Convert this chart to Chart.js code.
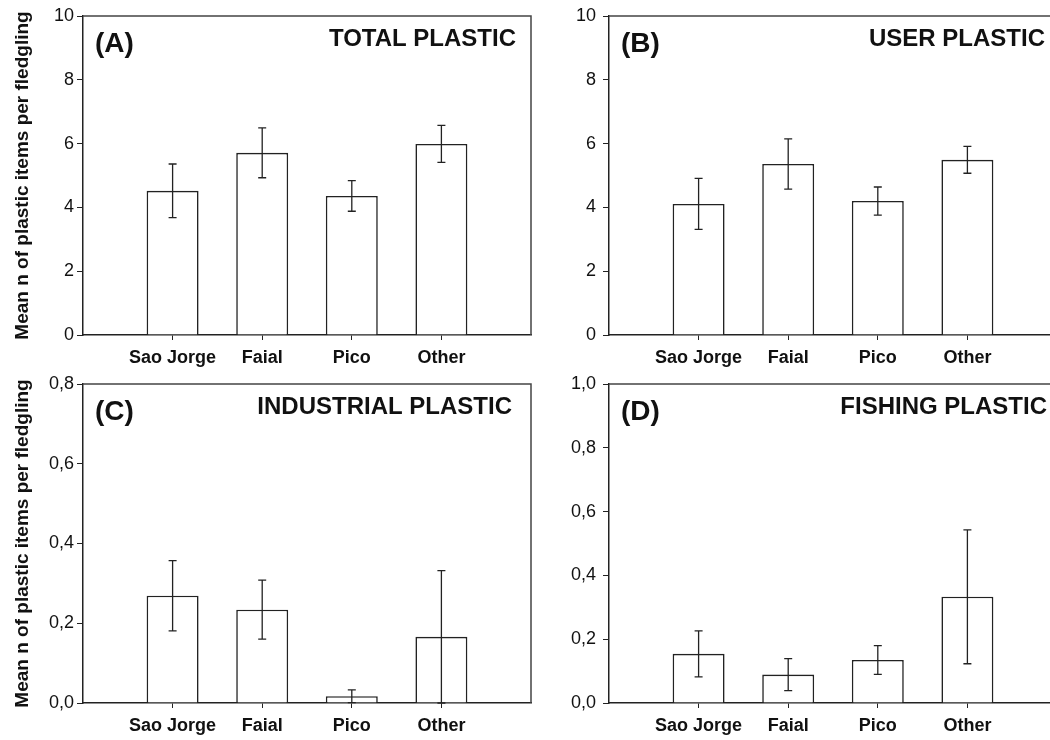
<!DOCTYPE html>
<html>
<head>
<meta charset="utf-8">
<script src="https://cdn.jsdelivr.net/npm/chart.js@4/dist/chart.umd.min.js"></script>
<style>
  html, body { margin: 0; padding: 0; background: #fff; width: 1050px; height: 740px; overflow: hidden; }
  canvas { position: absolute; }
</style>
</head>
<body>
<canvas id="chartA" width="540" height="370" style="left:0;top:0"></canvas>
<canvas id="chartB" width="535" height="370" style="left:530px;top:0"></canvas>
<canvas id="chartC" width="540" height="370" style="left:0;top:370px"></canvas>
<canvas id="chartD" width="535" height="370" style="left:530px;top:370px"></canvas>
<script>
// ========================
// DATA
// ========================
const categories = ["Sao Jorge", "Faial", "Pico", "Other"];

const totalMean = [4.52, 5.71, 4.36, 5.99];
const totalErr = [0.84, 0.78, 0.48, 0.58];

const userMean = [4.11, 5.36, 4.20, 5.49];
const userErr = [0.80, 0.79, 0.44, 0.42];

const industrialMean = [0.269, 0.234, 0.017, 0.166];
const industrialErr = [0.088, 0.074, 0.016, 0.166];

const fishingMean = [0.154, 0.089, 0.135, 0.333];
const fishingErr = [0.072, 0.050, 0.045, 0.210];

const FONT = "'Liberation Sans', Arial, sans-serif";
const INK = "#222";

// ========================
// PLUGINS
// ========================
const frameAndErrors = {
  id: "frameAndErrors",
  afterDatasetsDraw(chart) {
    const { ctx, chartArea: a, scales } = chart;
    const errs = chart.options.plugins.frameAndErrors.errors;
    const means = chart.data.datasets[0].data;
    ctx.save();
    ctx.strokeStyle = INK;
    ctx.lineWidth = 1.3;
    means.forEach((m, i) => {
      if (m == null) return;
      const e = errs[i - 1];
      const x = scales.x.getPixelForValue(i);
      const yTop = scales.y.getPixelForValue(m + e);
      const yBot = scales.y.getPixelForValue(Math.max(m - e, 0));
      ctx.beginPath();
      ctx.moveTo(x, yTop); ctx.lineTo(x, yBot);
      ctx.moveTo(x - 4, yTop); ctx.lineTo(x + 4, yTop);
      ctx.moveTo(x - 4, yBot); ctx.lineTo(x + 4, yBot);
      ctx.stroke();
    });
    // top and right frame
    ctx.strokeStyle = "#444";
    ctx.lineWidth = 1.5;
    ctx.beginPath();
    ctx.moveTo(a.left, a.top); ctx.lineTo(a.right, a.top); ctx.lineTo(a.right, a.bottom);
    ctx.stroke();
    ctx.restore();
  },
  afterDraw(chart) {
    const { ctx, chartArea: a } = chart;
    const o = chart.options.plugins.frameAndErrors;
    ctx.save();
    ctx.fillStyle = "#111";
    ctx.textBaseline = "middle";
    ctx.font = "bold 28px " + FONT;
    ctx.textAlign = "left";
    ctx.fillText(o.letter, a.left + 12, a.top + 28);
    ctx.font = "bold 24px " + FONT;
    ctx.textAlign = "right";
    ctx.fillText(o.title, a.right - o.titleInset, a.top + 23);
    ctx.restore();
  }
};

// ========================
// CHART BUILDER
// ========================
function makePanel(id, p) {
  const fmt = p.comma ? v => v.toFixed(1).replace(".", ",") : v => String(v);
  new Chart(document.getElementById(id), {
    type: "bar",
    data: {
      labels: ["", ...categories, ""],
      datasets: [{
        data: [null, ...p.mean, null],
        backgroundColor: "#fff",
        borderColor: INK,
        borderWidth: 1.6,
        barPercentage: 0.58,
        categoryPercentage: 1
      }]
    },
    options: {
      responsive: false,
      animation: false,
      layout: { padding: { top: p.padTop, right: p.padRight, left: 0, bottom: 0 } },
      plugins: {
        legend: { display: false },
        tooltip: { enabled: false },
        frameAndErrors: { errors: p.err, letter: p.letter, title: p.title, titleInset: p.titleInset }
      },
      scales: {
        x: {
          offset: false,
          afterFit: s => { s.height = p.xHeight; },
          border: { color: INK, width: 1.5 },
          grid: {
            offset: false,
            drawOnChartArea: false,
            tickLength: 5,
            color: c => (c.index === 0 || c.index === 5) ? "rgba(0,0,0,0)" : INK
          },
          ticks: { color: "#111", padding: 7, autoSkip: false, maxRotation: 0, font: { family: FONT, size: 18, weight: "bold" } }
        },
        y: {
          min: 0,
          max: p.max,
          afterFit: s => { s.width = p.yWidth; s.paddingTop = 10; s.paddingBottom = 10; },
          border: { color: INK, width: 1.5 },
          grid: { drawOnChartArea: false, tickLength: 6, color: INK },
          ticks: { stepSize: p.step, color: "#111", padding: p.tickPad, callback: fmt, font: { family: FONT, size: 18 } },
          title: {
            display: p.showTitle,
            text: "Mean n of plastic items per fledgling",
            color: "#111",
            padding: { top: 11, bottom: 0 },
            font: { family: FONT, size: 19, weight: "bold" }
          }
        }
      }
    },
    plugins: [frameAndErrors]
  });
}

makePanel("chartA", { mean: totalMean, err: totalErr, max: 10, step: 2, comma: false,
  letter: "(A)", title: "TOTAL PLASTIC", titleInset: 15, showTitle: true,
  padTop: 16, padRight: 9, yWidth: 83, xHeight: 35, tickPad: 3 });
makePanel("chartB", { mean: userMean, err: userErr, max: 10, step: 2, comma: false,
  letter: "(B)", title: "USER PLASTIC", titleInset: 12, showTitle: false,
  padTop: 16, padRight: 8, yWidth: 79, xHeight: 35, tickPad: 7 });
makePanel("chartC", { mean: industrialMean, err: industrialErr, max: 0.8, step: 0.2, comma: true,
  letter: "(C)", title: "INDUSTRIAL PLASTIC", titleInset: 19, showTitle: true,
  padTop: 14, padRight: 9, yWidth: 83, xHeight: 37, tickPad: 3 });
makePanel("chartD", { mean: fishingMean, err: fishingErr, max: 1.0, step: 0.2, comma: true,
  letter: "(D)", title: "FISHING PLASTIC", titleInset: 10, showTitle: false,
  padTop: 14, padRight: 8, yWidth: 79, xHeight: 37, tickPad: 7 });
</script>
</body>
</html>
